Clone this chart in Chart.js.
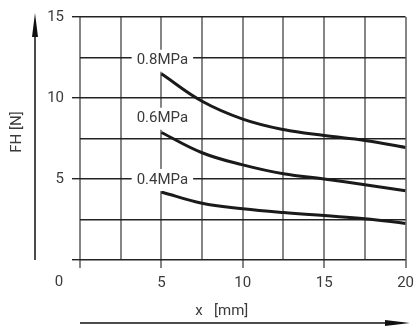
<!DOCTYPE html>
<html>
<head>
<meta charset="utf-8">
<script src="https://cdn.jsdelivr.net/npm/chart.js@4/dist/chart.umd.min.js"></script>
<style>
  html, body { margin: 0; padding: 0; background: #fff; }
  #wrap { width: 420px; height: 329px; }
</style>
</head>
<body>
<div id="wrap"><canvas id="fhChart" width="420" height="329"></canvas></div>
<script>
// stroke x [mm]
const strokes = [5, 7.5, 10, 12.5, 15, 17.5, 20];
// holding force FH [N] per pressure
const fh08 = [11.5, 9.8, 8.7, 8.05, 7.68, 7.38, 6.95];
const fh06 = [7.87, 6.62, 5.87, 5.32, 5.0, 4.65, 4.27];
const fh04 = [4.2, 3.5, 3.17, 2.93, 2.74, 2.55, 2.26];
const seriesNames = ["0.8MPa", "0.6MPa", "0.4MPa"];
// where each curve label sits (FH value, at x = 5)
const labelY = [12.3, 8.72, 4.94];

const FONT = "Roboto, 'DejaVu Sans', sans-serif";
const TEXT = "#3a3a3a";

function toPoints(ys) {
    return strokes.map((x, i) => ({ x: x, y: ys[i] }));
}

function isMajor(v) {
    return Math.abs(v % 5) < 1e-6;
}

// curve labels, corner zero, axis titles and arrows
const decorPlugin = {
    id: "decor",
    afterDatasetsDraw(chart) {
        const ctx = chart.ctx;
        const xs = chart.scales.x, ys = chart.scales.y;
        ctx.save();
        ctx.font = "15px " + FONT;
        ctx.textAlign = "center";
        ctx.textBaseline = "middle";
        seriesNames.forEach((name, i) => {
            const px = xs.getPixelForValue(5) + 1;
            const py = ys.getPixelForValue(labelY[i]);
            const w = ctx.measureText(name).width + 10;
            ctx.fillStyle = "#fff";
            ctx.fillRect(px - w / 2, py - 11, w, 22);
            ctx.fillStyle = TEXT;
            ctx.fillText(name, px, py);
        });
        ctx.restore();
    },
    afterDraw(chart) {
        const ctx = chart.ctx;
        const area = chart.chartArea;
        ctx.save();
        ctx.fillStyle = TEXT;
        ctx.font = "15px " + FONT;
        ctx.textBaseline = "middle";
        // shared origin label
        ctx.textAlign = "center";
        ctx.fillText("0", 59, 282);
        // x title, words spread like the original
        ctx.fillText("x", 199, 311);
        ctx.textAlign = "left";
        ctx.fillText("[mm]", 214, 311);
        // y title
        ctx.save();
        ctx.textAlign = "center";
        ctx.translate(17, 132);
        ctx.rotate(-Math.PI / 2);
        ctx.fillText("FH [N]", 0, 0);
        ctx.restore();

        ctx.strokeStyle = "#111";
        ctx.fillStyle = "#111";
        ctx.lineWidth = 1.5;
        // y arrow
        ctx.beginPath();
        ctx.moveTo(35, area.bottom);
        ctx.lineTo(35, 32);
        ctx.stroke();
        ctx.beginPath();
        ctx.moveTo(35, 13);
        ctx.lineTo(32, 37);
        ctx.lineTo(38, 37);
        ctx.closePath();
        ctx.fill();
        // x arrow
        ctx.beginPath();
        ctx.moveTo(area.left, 323);
        ctx.lineTo(390, 323);
        ctx.stroke();
        ctx.beginPath();
        ctx.moveTo(410, 323);
        ctx.lineTo(385, 320);
        ctx.lineTo(385, 326);
        ctx.closePath();
        ctx.fill();
        ctx.restore();
    }
};

const lineStyle = {
    borderColor: "#1a1a1a",
    borderWidth: 3,
    pointRadius: 0,
    fill: false,
    tension: 0.4
};

new Chart(document.getElementById("fhChart"), {
    type: "line",
    data: {
        datasets: [
            Object.assign({ label: seriesNames[0], data: toPoints(fh08) }, lineStyle),
            Object.assign({ label: seriesNames[1], data: toPoints(fh06) }, lineStyle),
            Object.assign({ label: seriesNames[2], data: toPoints(fh04) }, lineStyle)
        ]
    },
    options: {
        responsive: false,
        animation: false,
        layout: { padding: { left: 0, right: 12, top: 14, bottom: 0 } },
        plugins: {
            legend: { display: false },
            tooltip: { enabled: false }
        },
        scales: {
            x: {
                type: "linear",
                min: 0,
                max: 20,
                afterFit(scale) { scale.height = 69; },
                ticks: {
                    stepSize: 2.5,
                    padding: 6,
                    color: TEXT,
                    font: { family: FONT, size: 15 },
                    maxRotation: 0,
                    autoSkip: false,
                    callback: v => (isMajor(v) && v !== 0) ? String(v) : ""
                },
                grid: {
                    color: "#858585",
                    lineWidth: 2,
                    tickLength: 8,
                    tickColor: c => isMajor(c.tick.value) ? "#858585" : "rgba(0,0,0,0)"
                },
                border: { display: false }
            },
            y: {
                min: 0,
                max: 15,
                afterFit(scale) { scale.width = 80; },
                ticks: {
                    stepSize: 2.5,
                    padding: 8,
                    color: TEXT,
                    font: { family: FONT, size: 15 },
                    autoSkip: false,
                    callback: v => (isMajor(v) && v !== 0) ? String(v) : ""
                },
                grid: {
                    color: "#222",
                    lineWidth: 1.4,
                    tickLength: 8,
                    tickColor: c => isMajor(c.tick.value) ? "#222" : "rgba(0,0,0,0)"
                },
                border: { display: false }
            }
        }
    },
    plugins: [decorPlugin]
});
</script>
</body>
</html>
